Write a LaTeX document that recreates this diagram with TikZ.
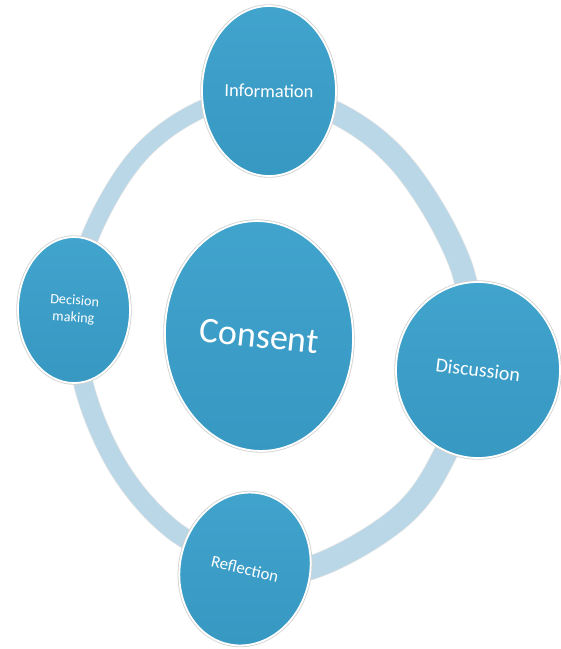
\documentclass[tikz,border=0pt]{standalone}
\usepackage{fontspec}
\setmainfont{Carlito}
\usetikzlibrary{shapes.geometric}
\definecolor{bubtop}{RGB}{65,164,205}
\definecolor{bubbot}{RGB}{55,152,194}
\definecolor{ringc}{RGB}{186,215,232}
\begin{document}
\begin{tikzpicture}[x=1pt,y=-1pt,
  bubble/.style={ellipse, top color=bubtop, bottom color=bubbot, draw=white, line width=1.8pt,
    preaction={draw=black!18, line width=3.4pt}, text=white, inner sep=0pt, align=center},
  ringband/.style={draw=ringc, line width=#1, preaction={draw=black!10, line width=#1+1.4pt}}]
\useasboundingbox[fill=white] (0,0) rectangle (561,649);
% ring arcs behind the bubbles
\draw[ringband=22pt] plot[smooth, tension=0.6] coordinates {
  (269,95) (340,115) (405,168) (460,263) (478,360)};
\draw[ringband=23pt] plot[smooth, tension=0.6] coordinates {
  (478,360) (447,450) (400,517) (310,568) (240,566)};
\draw[ringband=19pt] plot[smooth, tension=0.6] coordinates {
  (240,566) (173,530) (120,470) (85,390) (75,310)};
\draw[ringband=17pt] plot[smooth, tension=0.6] coordinates {
  (75,310) (90,237) (137,157) (200,110) (269,95)};
% bubbles
\node[bubble, minimum width=134pt, minimum height=170pt] (info) at (269,91)
  {\rotatebox{-1}{\fontsize{18.5}{20}\selectfont Information}};
\node[bubble, minimum width=188pt, minimum height=230pt, rotate=3] (consent) at (259,336)
  {\rotatebox{-9}{\fontsize{36}{40}\selectfont Consent}};
\node[bubble, minimum width=164pt, minimum height=176pt] (disc) at (478,370)
  {\rotatebox{-7}{\fontsize{20}{22}\selectfont Discussion}};
\node[bubble, minimum width=112pt, minimum height=146pt] (dec) at (74,310)
  {\rotatebox{-4}{\fontsize{14.2}{17}\selectfont\begin{tabular}{@{}c@{}}Decision\\making\end{tabular}}};
\node[bubble, minimum width=130pt, minimum height=154pt, rotate=-13] (refl) at (245,569)
  {\fontsize{16.8}{19}\selectfont Reflection};
\end{tikzpicture}
\end{document}
